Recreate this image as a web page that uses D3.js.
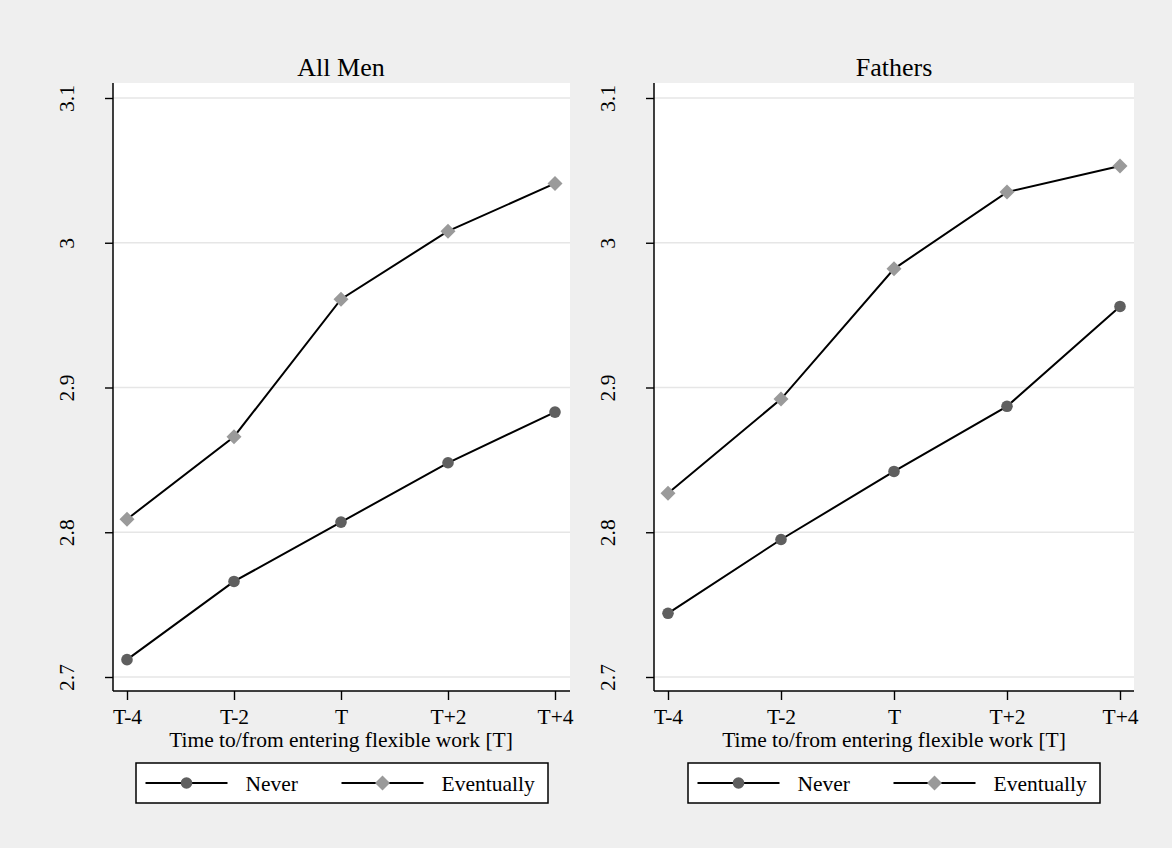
<!DOCTYPE html>
<html>
<head>
<meta charset="utf-8">
<script src="https://cdn.jsdelivr.net/npm/d3@7"></script>
<style>
  html, body { margin: 0; padding: 0; background: #efefef; }
  svg { display: block; }
  text { font-family: "Liberation Serif", "Times New Roman", serif; fill: #000; }
</style>
</head>
<body>
<svg id="chart" width="1172" height="848"></svg>
<script>
// Time relative to entering flexible work
const periods = ["T-4", "T-2", "T", "T+2", "T+4"];
const periodValues = [-4, -2, 0, 2, 4];

// Outcome means by group
const allMenNever = [2.712, 2.766, 2.807, 2.848, 2.883];
const allMenEventually = [2.809, 2.866, 2.961, 3.008, 3.041];
const fathersNever = [2.744, 2.795, 2.842, 2.887, 2.956];
const fathersEventually = [2.827, 2.892, 2.982, 3.035, 3.053];

const yTicks = [2.7, 2.8, 2.9, 3.0, 3.1];
const yTickLabels = ["2.7", "2.8", "2.9", "3", "3.1"];

const seriesNames = ["Never", "Eventually"];
const panelTitles = ["All Men", "Fathers"];
const xAxisTitle = "Time to/from entering flexible work [T]";

const panels = [
  { title: panelTitles[0], never: allMenNever, eventually: allMenEventually,
    left: 113, right: 570, xFirst: 127, xLast: 555, legend: [136, 548] },
  { title: panelTitles[1], never: fathersNever, eventually: fathersEventually,
    left: 654, right: 1134, xFirst: 668, xLast: 1120, legend: [688, 1100] }
];

const plotTop = 83, plotBottom = 691;
const FONT = 21.5;
const circleColor = "#5f5f5f";
const diamondColor = "#9a9a9a";

const svg = d3.select("#chart");
svg.append("rect").attr("width", 1172).attr("height", 848).attr("fill", "#efefef");

const y = d3.scaleLinear().domain([2.7, 3.1]).range([677, 98]);

function drawDiamond(g, cx, cy) {
  const s = 7.5;
  g.append("path")
    .attr("d", `M${cx},${cy - s}L${cx + s},${cy}L${cx},${cy + s}L${cx - s},${cy}Z`)
    .attr("fill", diamondColor);
}

panels.forEach(p => {
  const g = svg.append("g");
  const x = d3.scaleLinear().domain([-4, 4]).range([p.xFirst, p.xLast]);

  // plot region
  g.append("rect")
    .attr("x", p.left).attr("y", plotTop)
    .attr("width", p.right - p.left).attr("height", plotBottom - plotTop)
    .attr("fill", "#ffffff");

  // horizontal gridlines
  g.selectAll("line.grid").data(yTicks).join("line")
    .attr("class", "grid")
    .attr("x1", p.left).attr("x2", p.right)
    .attr("y1", d => y(d)).attr("y2", d => y(d))
    .attr("stroke", "#e6e6e6").attr("stroke-width", 1.6);

  // y axis
  const yAxis = d3.axisLeft(y).tickValues(yTicks)
    .tickFormat((d, i) => yTickLabels[i]).tickSize(8).tickSizeOuter(0);
  const ya = g.append("g").attr("transform", `translate(${p.left},0)`).call(yAxis);
  ya.select(".domain").remove();
  ya.selectAll(".tick line").attr("stroke", "#000").attr("stroke-width", 1.4);
  ya.selectAll(".tick text")
    .attr("x", null).attr("dy", null)
    .attr("transform", "translate(-39,0) rotate(-90)")
    .attr("text-anchor", "middle")
    .style("font-family", '"Liberation Serif", serif')
    .style("font-size", "21.5px").attr("fill", "#000");
  g.append("line")
    .attr("x1", p.left).attr("x2", p.left)
    .attr("y1", plotTop).attr("y2", plotBottom)
    .attr("stroke", "#000").attr("stroke-width", 1.5);

  // x axis
  const xAxis = d3.axisBottom(x).tickValues(periodValues)
    .tickFormat((d, i) => periods[i]).tickSize(9).tickSizeOuter(0);
  const xa = g.append("g").attr("transform", `translate(0,${plotBottom})`).call(xAxis);
  xa.select(".domain").remove();
  xa.selectAll(".tick line").attr("stroke", "#000").attr("stroke-width", 1.4);
  xa.selectAll(".tick text")
    .attr("y", 33).attr("dy", null)
    .style("font-family", '"Liberation Serif", serif')
    .style("font-size", FONT + "px").attr("fill", "#000");
  g.append("line")
    .attr("x1", p.left).attr("x2", p.right)
    .attr("y1", plotBottom).attr("y2", plotBottom)
    .attr("stroke", "#000").attr("stroke-width", 1.5);

  const mid = (x(-4) + x(4)) / 2;
  g.append("text").attr("x", mid).attr("y", 747)
    .attr("text-anchor", "middle").style("font-size", FONT + "px")
    .text(xAxisTitle);

  g.append("text").attr("x", mid).attr("y", 76)
    .attr("text-anchor", "middle").style("font-size", "26px")
    .text(p.title);

  // series lines
  const line = d3.line().x((d, i) => x(periodValues[i])).y(d => y(d));
  [p.never, p.eventually].forEach(vals => {
    g.append("path").datum(vals).attr("d", line)
      .attr("fill", "none").attr("stroke", "#000").attr("stroke-width", 2);
  });

  // markers
  p.never.forEach((v, i) => {
    g.append("circle").attr("cx", x(periodValues[i])).attr("cy", y(v))
      .attr("r", 5.8).attr("fill", circleColor);
  });
  p.eventually.forEach((v, i) => drawDiamond(g, x(periodValues[i]), y(v)));

  // legend
  const [lx0, lx1] = p.legend;
  const ly0 = 763, ly1 = 803, lyc = 783;
  g.append("rect").attr("x", lx0).attr("y", ly0)
    .attr("width", lx1 - lx0).attr("height", ly1 - ly0)
    .attr("fill", "#fff").attr("stroke", "#000").attr("stroke-width", 1.5);
  const w = lx1 - lx0;
  const keyLen = 82;
  const items = [
    { name: seriesNames[0], x: lx0 + 9.5, marker: "circle" },
    { name: seriesNames[1], x: lx0 + w * 0.5 - 0.5, marker: "diamond" }
  ];
  items.forEach(it => {
    g.append("line").attr("x1", it.x).attr("x2", it.x + keyLen)
      .attr("y1", lyc).attr("y2", lyc)
      .attr("stroke", "#000").attr("stroke-width", 2);
    const cx = it.x + keyLen / 2;
    if (it.marker === "circle") {
      g.append("circle").attr("cx", cx).attr("cy", lyc).attr("r", 5.8).attr("fill", circleColor);
    } else {
      drawDiamond(g, cx, lyc);
    }
    g.append("text").attr("x", it.x + keyLen + 18).attr("y", 791)
      .style("font-size", FONT + "px").text(it.name);
  });
});
</script>
</body>
</html>
